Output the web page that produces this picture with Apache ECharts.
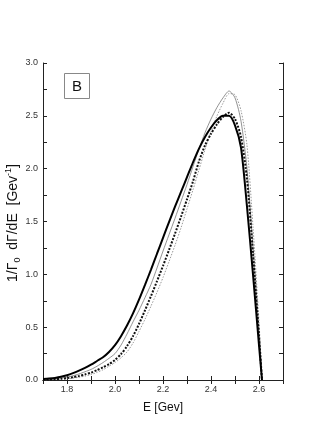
<!DOCTYPE html>
<html>
<head>
<meta charset="utf-8">
<script src="https://cdn.jsdelivr.net/npm/echarts@6/dist/echarts.min.js"></script>
<style>
html,body{margin:0;padding:0;background:#fff;}
#chart{width:310px;height:448px;}
</style>
</head>
<body>
<div id="chart"></div>
<script>
// Energy grid (GeV)
var energy = [1.700,1.725,1.750,1.775,1.800,1.825,1.850,1.875,1.900,1.925,1.950,1.975,2.000,2.025,2.050,2.075,2.100,2.125,2.150,2.175,2.200,2.225,2.250,2.275,2.300,2.325,2.350,2.375,2.400,2.425,2.450,2.475,2.500,2.525,2.550,2.575,2.600,2.6125];
// thick solid
var thickSolid = [0.010,0.014,0.020,0.030,0.045,0.065,0.088,0.115,0.145,0.180,0.215,0.265,0.330,0.415,0.515,0.630,0.760,0.900,1.045,1.195,1.345,1.495,1.640,1.780,1.920,2.060,2.190,2.300,2.390,2.460,2.500,2.500,2.410,2.200,1.640,1.000,0.330,0];
// thin solid
var thinSolid = [0.004,0.007,0.012,0.019,0.028,0.040,0.057,0.078,0.100,0.130,0.165,0.205,0.250,0.330,0.435,0.550,0.660,0.780,0.905,1.060,1.220,1.375,1.530,1.690,1.850,2.020,2.185,2.340,2.470,2.580,2.670,2.735,2.670,2.450,2.000,1.250,0.450,0];
// thick dotted
var thickDotted = [0.003,0.005,0.008,0.012,0.018,0.027,0.038,0.053,0.070,0.093,0.120,0.150,0.190,0.245,0.320,0.415,0.530,0.660,0.795,0.935,1.080,1.230,1.385,1.545,1.710,1.880,2.070,2.220,2.330,2.420,2.490,2.530,2.470,2.300,1.900,1.200,0.420,0];
// thin dotted
var thinDotted = [0.002,0.003,0.005,0.008,0.012,0.018,0.026,0.037,0.052,0.072,0.097,0.130,0.165,0.210,0.265,0.350,0.460,0.575,0.700,0.830,0.970,1.120,1.275,1.440,1.620,1.800,1.990,2.180,2.350,2.500,2.620,2.710,2.700,2.550,2.220,1.450,0.550,0];

var xTickLabels = ['1.8','2.0','2.2','2.4','2.6'];
var yTickLabels = ['0.0','0.5','1.0','1.5','2.0','2.5','3.0'];
var xTitle = 'E [Gev]';
var yTitle = '1/Γ{sub|0}  dΓ/dE  [Gev{sup|-1}]';
var panelLabel = 'B';

function pairs(ys){ return energy.map(function(e,i){ return [e, ys[i]]; }); }

var chart = echarts.init(document.getElementById('chart'), null, {renderer:'canvas'});
var axisCol = '#222';
var fontFam = 'Liberation Sans, Arial, sans-serif';
function xFmt(v){ var s = v.toFixed(1); return xTickLabels.indexOf(s) >= 0 ? s : ''; }
function yFmt(v){ var s = v.toFixed(1); return (Math.abs(v*2 - Math.round(v*2)) < 1e-6 && yTickLabels.indexOf(s) >= 0) ? s : ''; }

var baseX = {
  type:'value', min:1.7, max:2.7, interval:0.1,
  axisLine:{show:true, lineStyle:{color:axisCol, width:1}},
  axisTick:{show:true, inside:true, length:4, lineStyle:{color:axisCol}},
  splitLine:{show:false}
};
var baseY = {
  type:'value', min:0, max:3, interval:0.25,
  axisLine:{show:true, onZero:false, lineStyle:{color:axisCol, width:1}},
  axisTick:{show:true, inside:true, length:4, lineStyle:{color:axisCol}},
  splitLine:{show:false}
};

var option = {
  backgroundColor:'#fff',
  animation:false,
  grid:{left:43, right:27, top:63, bottom:68, containLabel:false, outerBoundsMode:'none'},
  xAxis:[
    Object.assign({}, baseX, {
      position:'bottom',
      name:xTitle, nameLocation:'middle', nameGap:22,
      nameTextStyle:{fontFamily:fontFam, fontSize:12, color:'#111'},
      axisLabel:{show:true, formatter:xFmt, fontFamily:fontFam, fontSize:9, color:'#333', margin:5, showMinLabel:true, showMaxLabel:true}
    }),
    Object.assign({}, baseX, {position:'top', axisLabel:{show:false}})
  ],
  yAxis:[
    Object.assign({}, baseY, {
      position:'left',
      axisLabel:{show:true, formatter:yFmt, fontFamily:fontFam, fontSize:9, color:'#333', margin:5}
    }),
    Object.assign({}, baseY, {position:'right', axisLabel:{show:false}})
  ],
  graphic:[
    {type:'rect', shape:{x:64.5, y:73.5, width:25, height:25}, style:{fill:'#fff', stroke:'#888', lineWidth:1}, z:10},
    {type:'text', x:77, y:86.5, style:{text:panelLabel, fontSize:15, fontFamily:fontFam, fill:'#111', textAlign:'center', textVerticalAlign:'middle'}, z:11},
    {type:'text', x:13, y:223, rotation:Math.PI/2, z:11,
      style:{text:yTitle, fontSize:14, fontFamily:fontFam, fill:'#111', textAlign:'center', textVerticalAlign:'middle', lineHeight:18,
        rich:{
          sub:{fontSize:9, fontFamily:fontFam, fill:'#111', verticalAlign:'bottom', lineHeight:18},
          sup:{fontSize:9, fontFamily:fontFam, fill:'#111', verticalAlign:'top', lineHeight:18}
        }}}
  ],
  series:[
    {type:'line', data:pairs(thinDotted), smooth:0.25, showSymbol:false, lineStyle:{color:'#999', width:1, type:[1.5,1.5]}},
    {type:'line', data:pairs(thinSolid), smooth:0.25, showSymbol:false, lineStyle:{color:'#777', width:0.8}},
    {type:'line', data:pairs(thickDotted), smooth:0.25, showSymbol:false, lineStyle:{color:'#111', width:2, type:[2,1.5]}},
    {type:'line', data:pairs(thickSolid), smooth:0.25, showSymbol:false, lineStyle:{color:'#000', width:2}}
  ]
};
chart.setOption(option);
</script>
</body>
</html>
